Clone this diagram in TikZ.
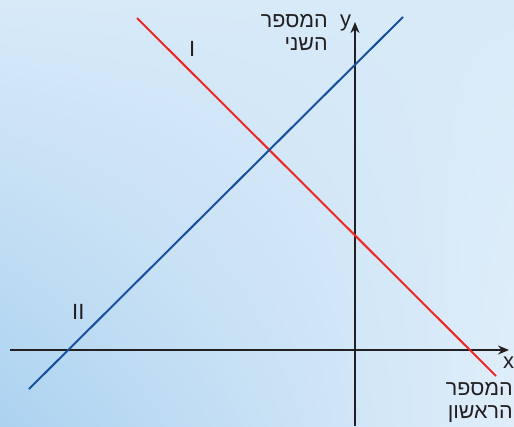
\documentclass[tikz,border=0pt]{standalone}
\usepackage{fontspec}
\setmainfont{Liberation Sans}
\newfontfamily\hebfont[Script=Hebrew]{Liberation Sans}
\TeXXeTstate=1
\usetikzlibrary{arrows.meta,shadings}

\definecolor{bgdark}{RGB}{172,210,240}
\definecolor{bglight}{RGB}{224,238,250}
\definecolor{bgmid}{RGB}{216,234,248}
\definecolor{lineone}{RGB}{236,40,36}
\definecolor{linetwo}{RGB}{24,80,160}
\definecolor{axiscol}{RGB}{35,31,32}

\tikzset{
  axis/.style={axiscol, line width=2.2pt, -{Stealth[length=11pt,width=9pt]}},
  lbl/.style={inner sep=0pt, text=axiscol, font=\fontsize{22}{24}\selectfont},
  heb/.style={lbl, align=right, font=\hebfont\fontsize{21.5}{23}\selectfont},
}

\begin{document}
\begin{tikzpicture}[x=1pt,y=-1pt]
  \useasboundingbox (0,0) rectangle (514,426);
  \shade[lower left=bgdark, upper left=bgmid, upper right=bgmid, lower right=bglight]
    (0,0) rectangle (514,426);
  \clip (0,0) rectangle (514,426);

  % axes
  \coordinate (xs) at (10,350);
  \coordinate (xe) at (509,350);
  \coordinate (ys) at (355,426);
  \coordinate (ye) at (355,22);
  \draw[axis] (xs) -- (xe);
  \draw[axis] (ys) -- (ye);

  % lines
  \coordinate (ia) at (137,18);
  \coordinate (ib) at (496,376);
  \coordinate (iia) at (29,389);
  \coordinate (iib) at (403,17);
  \draw[lineone, line width=2pt] (ia) -- (ib);
  \draw[linetwo, line width=2pt] (iia) -- (iib);

  % labels
  \node[lbl, anchor=base west] (labI) at (189,56) {I};
  \node[lbl, anchor=base west] (labII) at (72,319) {II};
  \node[lbl, anchor=base west] (laby) at (340,26) {y};
  \node[lbl, anchor=base west] (labx) at (503,368) {x};
  \node[heb, anchor=north east] (yname) at (328,14) {\beginR המספר\endR\\\beginR השני\endR};
  \node[heb, anchor=north east] (xname) at (513,382) {\beginR המספר\endR\\\beginR הראשון\endR};
\end{tikzpicture}
\end{document}
